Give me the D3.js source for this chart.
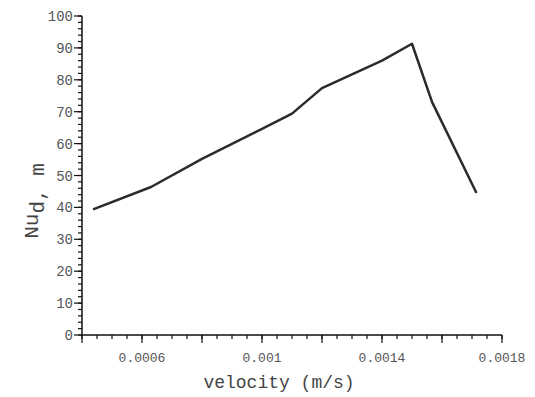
<!DOCTYPE html>
<html>
<head>
<meta charset="utf-8">
<script src="https://cdn.jsdelivr.net/npm/d3@7"></script>
<style>
  body { margin: 0; background: #fff; }
  text { font-family: "Liberation Mono", "DejaVu Sans Mono", monospace; }
</style>
</head>
<body>
<div id="chart"></div>
<script>
// values
const velocity = [0.000437, 0.00063, 0.0008, 0.001, 0.0011, 0.0012, 0.0014, 0.0015, 0.001567, 0.001715];
const nusselt = [39.4, 46.4, 55.2, 64.6, 69.4, 77.4, 86.0, 91.3, 73.0, 44.5];
const xLabelTicks = [0.0006, 0.001, 0.0014, 0.0018];
const yLabelTicks = [0, 10, 20, 30, 40, 50, 60, 70, 80, 90, 100];

const W = 535, H = 397;
const svg = d3.select("#chart").append("svg")
  .attr("width", W).attr("height", H);

const x = d3.scaleLinear().domain([0.0004, 0.0018]).range([82, 502]);
const y = d3.scaleLinear().domain([0, 100]).range([335, 16]);

// minor / major ticks on x
const xMinor = d3.range(0, 29).map(i => 0.0004 + i * 0.00005);
const xMajor = d3.range(0, 8).map(i => 0.0004 + i * 0.0002);
const gx = svg.append("g");
gx.append("line").attr("x1", x(0.0004)).attr("x2", x(0.0018))
  .attr("y1", y(0)).attr("y2", y(0)).attr("stroke", "#111").attr("stroke-width", 1.5);
gx.selectAll(".mn").data(xMinor).enter().append("line")
  .attr("x1", d => x(d)).attr("x2", d => x(d))
  .attr("y1", y(0)).attr("y2", y(0) + 4)
  .attr("stroke", "#111").attr("stroke-width", 1.2);
gx.selectAll(".mj").data(xMajor).enter().append("line")
  .attr("x1", d => x(d)).attr("x2", d => x(d))
  .attr("y1", y(0)).attr("y2", y(0) + 8)
  .attr("stroke", "#111").attr("stroke-width", 1.2);
gx.selectAll(".lb").data(xLabelTicks).enter().append("text")
  .attr("x", d => x(d)).attr("y", 362)
  .attr("text-anchor", "middle").attr("font-size", 13).attr("fill", "#555")
  .text(d => d3.format("~g")(d));

// y axis
const yMinor = d3.range(0, 51).map(i => i * 2);
const gy = svg.append("g");
gy.append("line").attr("x1", x(0.0004)).attr("x2", x(0.0004))
  .attr("y1", y(0)).attr("y2", y(100)).attr("stroke", "#111").attr("stroke-width", 1.5);
gy.selectAll(".mn").data(yMinor).enter().append("line")
  .attr("x1", x(0.0004)).attr("x2", x(0.0004) - 4)
  .attr("y1", d => y(d)).attr("y2", d => y(d))
  .attr("stroke", "#111").attr("stroke-width", 1.2);
gy.selectAll(".mj").data(yLabelTicks).enter().append("line")
  .attr("x1", x(0.0004)).attr("x2", x(0.0004) - 8)
  .attr("y1", d => y(d)).attr("y2", d => y(d))
  .attr("stroke", "#111").attr("stroke-width", 1.2);
gy.selectAll(".lb").data(yLabelTicks).enter().append("text")
  .attr("x", 73).attr("y", d => y(d) + 5)
  .attr("text-anchor", "end").attr("font-size", 14).attr("fill", "#555")
  .text(d => d);

// titles
svg.append("text").attr("x", 279).attr("y", 388)
  .attr("text-anchor", "middle").attr("font-size", 18).attr("fill", "#444")
  .text("velocity (m/s)");
const yt = svg.append("text").attr("transform", "translate(38,201) rotate(-90)")
  .attr("text-anchor", "middle").attr("font-size", 21).attr("fill", "#444");
yt.append("tspan").text("Nu");
yt.append("tspan").attr("dy", 6).text("d, m");

// the line
const pts = velocity.map((v, i) => [v, nusselt[i]]);
svg.append("path").datum(pts)
  .attr("fill", "none").attr("stroke", "#2b2b2b").attr("stroke-width", 2.5)
  .attr("stroke-linejoin", "round")
  .attr("d", d3.line().x(d => x(d[0])).y(d => y(d[1])));
</script>
</body>
</html>
